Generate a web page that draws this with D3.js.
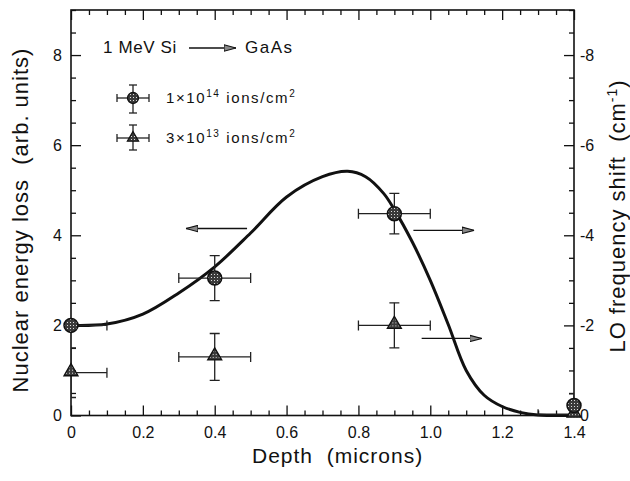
<!DOCTYPE html>
<html><head><meta charset="utf-8">
<script src="https://cdn.jsdelivr.net/npm/d3@7"></script>
<style>
body{margin:0;background:#fff;}
svg text{font-family:"Liberation Sans",Arial,Helvetica,sans-serif;fill:#111;}
</style></head><body>
<svg id="chart" width="630" height="481"></svg>
<script>
// ---- data ----
const curveDepth = [0, 0.1, 0.2, 0.3, 0.4, 0.5, 0.6, 0.7, 0.77, 0.82, 0.87, 0.9, 0.95, 1.0, 1.05, 1.1, 1.15, 1.2, 1.25, 1.3, 1.4];
const curveLoss  = [2.0, 2.03, 2.25, 2.72, 3.3, 4.05, 4.85, 5.3, 5.42, 5.3, 4.93, 4.57, 3.85, 3.0, 2.02, 1.0, 0.45, 0.2, 0.07, 0.01, 0.0];

const highDoseDepth = [0, 0.4, 0.9, 1.4];
const highDoseShift = [-2.0, -3.05, -4.48, -0.22];
const highDoseDepthErr = [0.1, 0.1, 0.1, 0];
const highDoseShiftErr = [0, 0.5, 0.45, 0.26];

const lowDoseDepth = [0, 0.4, 0.9, 1.4];
const lowDoseShift = [-0.95, -1.3, -2.0, -0.03];
const lowDoseDepthErr = [0.1, 0.1, 0.1, 0.1];
const lowDoseShiftErr = [0.55, 0.52, 0.5, 0];

const arrowStartDepth = [0.49, 0.953, 0.976];
const arrowEndDepth   = [0.32, 1.122, 1.143];
const arrowLevel      = [4.15, 4.11, 1.71];

const xTicks = [0, 0.2, 0.4, 0.6, 0.8, 1.0, 1.2, 1.4];
const yTicks = [0, 2, 4, 6, 8];
const y2Ticks = [0, -2, -4, -6, -8];
const xTickLabels = ["0", "0.2", "0.4", "0.6", "0.8", "1.0", "1.2", "1.4"];
const yTickLabels = ["0", "2", "4", "6", "8"];
const y2TickLabels = ["0", "-2", "-4", "-6", "-8"];
const legendLabels = [["1×10", "14", "\u00A0ions/cm", "2"], ["3×10", "13", "\u00A0ions/cm", "2"]];

// ---- layout ----
const svg = d3.select('#chart');
const L = 71, R = 574, T = 10, B = 415.5;
const x = d3.scaleLinear().domain([0, 1.4]).range([L, R]);
const y = d3.scaleLinear().domain([0, 9]).range([B, T]);
const y2 = d3.scaleLinear().domain([0, -9]).range([B, T]);
const ink = "#111";

const defs = svg.append("defs");
defs.append("clipPath").attr("id", "plotclip").append("rect")
  .attr("x", L).attr("y", T).attr("width", R - L).attr("height", B - T);
const pat = defs.append("pattern").attr("id", "dots").attr("patternUnits", "userSpaceOnUse")
  .attr("width", 3).attr("height", 3);
pat.append("rect").attr("width", 3).attr("height", 3).attr("fill", "#3a3a3a");
pat.append("rect").attr("x", 1).attr("y", 1).attr("width", 1).attr("height", 1).attr("fill", "#ddd");
defs.append("marker").attr("id", "ahead").attr("viewBox", "0 0 12 8").attr("refX", 12).attr("refY", 4)
  .attr("markerWidth", 12).attr("markerHeight", 8).attr("markerUnits", "userSpaceOnUse").attr("orient", "auto")
  .append("path").attr("d", "M0,0.8 L12,4 L0,7.2 Z").attr("fill", "#888").attr("stroke", ink).attr("stroke-width", 1.1);

// ---- axes ----
function styleAxis(g) {
  g.select(".domain").remove();
  g.selectAll(".tick line").attr("stroke", ink).attr("stroke-width", 1.3);
  g.selectAll(".tick text").attr("font-size", 16).attr("fill", ink)
    .attr("font-family", '"Liberation Sans",Arial,sans-serif');
}
const minorX = d3.range(0, 1.4001, 0.05).map(v => +v.toFixed(2)).filter(v => !xTicks.some(t => Math.abs(t - v) < 1e-6));
const minorY = d3.range(0, 9.001, 0.5).filter(v => v % 2 !== 0);

svg.append("g").attr("transform", `translate(0,${B})`)
  .call(d3.axisBottom(x).tickValues(xTicks).tickSize(-10).tickSizeOuter(0).tickPadding(11)
    .tickFormat((d, i) => xTickLabels[i])).call(styleAxis);
svg.append("g").attr("transform", `translate(0,${B})`)
  .call(d3.axisBottom(x).tickValues(minorX).tickSize(-5).tickSizeOuter(0).tickFormat("")).call(styleAxis);
svg.append("g").attr("transform", `translate(0,${T})`)
  .call(d3.axisTop(x).tickValues(xTicks).tickSize(-10).tickSizeOuter(0).tickFormat("")).call(styleAxis);
svg.append("g").attr("transform", `translate(0,${T})`)
  .call(d3.axisTop(x).tickValues(minorX).tickSize(-5).tickSizeOuter(0).tickFormat("")).call(styleAxis);

svg.append("g").attr("transform", `translate(${L},0)`)
  .call(d3.axisLeft(y).tickValues(yTicks).tickSize(-10).tickSizeOuter(0).tickPadding(9)
    .tickFormat((d, i) => yTickLabels[i])).call(styleAxis);
svg.append("g").attr("transform", `translate(${L},0)`)
  .call(d3.axisLeft(y).tickValues(minorY).tickSize(-5).tickSizeOuter(0).tickFormat("")).call(styleAxis);
svg.append("g").attr("transform", `translate(${R},0)`)
  .call(d3.axisRight(y2).tickValues(y2Ticks).tickSize(-10).tickSizeOuter(0).tickPadding(6)
    .tickFormat((d, i) => y2TickLabels[i])).call(styleAxis);
svg.append("g").attr("transform", `translate(${R},0)`)
  .call(d3.axisRight(y2).tickValues(minorY.map(v => -v)).tickSize(-5).tickSizeOuter(0).tickFormat("")).call(styleAxis);

svg.append("rect").attr("x", L).attr("y", T).attr("width", R - L).attr("height", B - T)
  .attr("fill", "none").attr("stroke", ink).attr("stroke-width", 1.6);

// ---- axis titles ----
svg.append("text").attr("transform", `translate(28,220) rotate(-90)`).attr("text-anchor", "middle")
  .attr("font-size", 22).attr("letter-spacing", 1)
  .text("Nuclear energy loss\u00A0\u00A0(arb. units)");
const rt = svg.append("text").attr("transform", `translate(625,216) rotate(-90)`).attr("text-anchor", "middle")
  .attr("font-size", 22).attr("letter-spacing", 1);
rt.append("tspan").text("LO frequency shift\u00A0\u00A0(cm");
rt.append("tspan").attr("font-size", 14).attr("dy", -8).text("-1");
rt.append("tspan").attr("dy", 8).text(")");
svg.append("text").attr("x", 252).attr("y", 463).attr("font-size", 21).attr("letter-spacing", 1)
  .text("Depth\u00A0\u00A0(microns)");

// ---- curve ----
const line = d3.line().x(d => x(d[0])).y(d => y(d[1])).curve(d3.curveCatmullRom.alpha(0.5));
svg.append("path").datum(curveDepth.map((d, i) => [d, curveLoss[i]]))
  .attr("d", line).attr("fill", "none").attr("stroke", ink).attr("stroke-width", 3);

// ---- arrows ----
arrowStartDepth.forEach((d, i) => {
  svg.append("line").attr("x1", x(d)).attr("x2", x(arrowEndDepth[i]))
    .attr("y1", y(arrowLevel[i])).attr("y2", y(arrowLevel[i]))
    .attr("stroke", ink).attr("stroke-width", 1.3).attr("marker-end", "url(#ahead)");
});

// ---- error bars + markers ----
const eb = svg.append("g").attr("clip-path", "url(#plotclip)");
function errorBars(xs, ys, xe, ye) {
  xs.forEach((d, i) => {
    const cy = y2(ys[i]), cx = x(d);
    if (xe[i] > 0) {
      const a = x(d - xe[i]), b = x(d + xe[i]);
      eb.append("line").attr("x1", a).attr("x2", b).attr("y1", cy).attr("y2", cy);
      [a, b].forEach(px => eb.append("line").attr("x1", px).attr("x2", px).attr("y1", cy - 5).attr("y2", cy + 5));
    }
    if (ye[i] > 0) {
      const a = y2(ys[i] - ye[i]), b = y2(ys[i] + ye[i]);
      eb.append("line").attr("x1", cx).attr("x2", cx).attr("y1", a).attr("y2", b);
      [a, b].forEach(py => eb.append("line").attr("x1", cx - 5).attr("x2", cx + 5).attr("y1", py).attr("y2", py));
    }
  });
}
errorBars(highDoseDepth, highDoseShift, highDoseDepthErr, highDoseShiftErr);
errorBars(lowDoseDepth, lowDoseShift, lowDoseDepthErr, lowDoseShiftErr);
eb.selectAll("line").attr("stroke", "#222").attr("stroke-width", 1.3);

const tri = d3.symbol().type(d3.symbolTriangle).size(85);
svg.selectAll(".lowpt").data(lowDoseDepth).join("path").attr("class", "lowpt")
  .attr("transform", (d, i) => `translate(${x(d)},${y2(lowDoseShift[i]) - 1})`)
  .attr("d", tri).attr("fill", "url(#dots)").attr("stroke", ink).attr("stroke-width", 1.3);
svg.selectAll(".highpt").data(highDoseDepth).join("circle").attr("class", "highpt")
  .attr("cx", d => x(d)).attr("cy", (d, i) => y2(highDoseShift[i])).attr("r", 7)
  .attr("fill", "url(#dots)").attr("stroke", ink).attr("stroke-width", 1.5);

// ---- title annotation ----
svg.append("text").attr("x", 103).attr("y", 53).attr("font-size", 17).attr("letter-spacing", 0.6).text("1 MeV Si");
svg.append("line").attr("x1", 189).attr("x2", 236).attr("y1", 48).attr("y2", 48)
  .attr("stroke", ink).attr("stroke-width", 1.3).attr("marker-end", "url(#ahead)");
svg.append("text").attr("x", 245).attr("y", 53).attr("font-size", 17).attr("letter-spacing", 1.5).text("GaAs");

// ---- legend ----
const legY = [98, 138];
legY.forEach((ly, i) => {
  const g = svg.append("g");
  const lx = 133;
  g.append("line").attr("x1", lx - 16).attr("x2", lx + 16).attr("y1", ly).attr("y2", ly);
  [lx - 16, lx + 16].forEach(px => g.append("line").attr("x1", px).attr("x2", px).attr("y1", ly - 4).attr("y2", ly + 4));
  const top = ly - 13, bot = i === 0 ? ly + 15 : ly + 12;
  g.append("line").attr("x1", lx).attr("x2", lx).attr("y1", top).attr("y2", bot);
  [top, bot].forEach(py => g.append("line").attr("x1", lx - 4).attr("x2", lx + 4).attr("y1", py).attr("y2", py));
  g.selectAll("line").attr("stroke", "#222").attr("stroke-width", 1.3);
  if (i === 0) g.append("circle").attr("cx", lx).attr("cy", ly).attr("r", 5.5)
    .attr("fill", "url(#dots)").attr("stroke", ink).attr("stroke-width", 1.3);
  else g.append("path").attr("transform", `translate(${lx},${ly})`).attr("d", d3.symbol().type(d3.symbolTriangle).size(55))
    .attr("fill", "url(#dots)").attr("stroke", ink).attr("stroke-width", 1.2);
  const t = svg.append("text").attr("x", 166).attr("y", ly + 5).attr("font-size", 15).attr("letter-spacing", 1.6);
  const lab = legendLabels[i];
  t.append("tspan").text(lab[0]);
  t.append("tspan").attr("font-size", 10).attr("dy", -6).text(lab[1]);
  t.append("tspan").attr("dy", 6).text(lab[2]);
  t.append("tspan").attr("font-size", 10).attr("dy", -6).text(lab[3]);
});
</script>
</body></html>
